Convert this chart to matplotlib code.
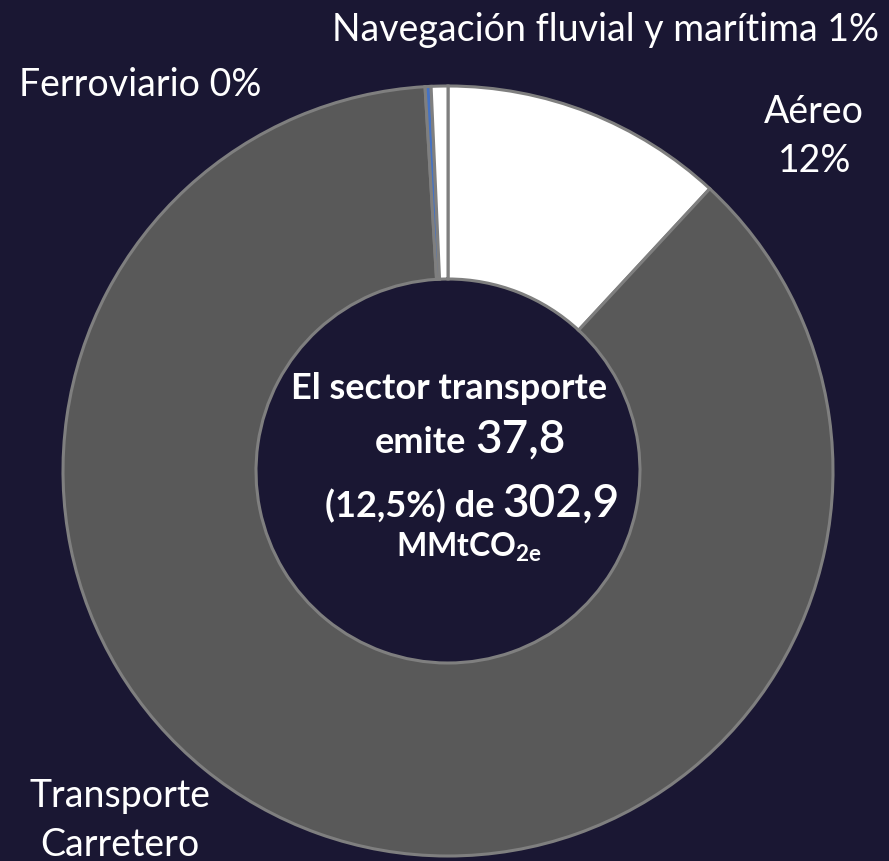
import matplotlib.pyplot as plt

# Emisiones del sector transporte (%)
categorias = ['Aéreo', 'Transporte Carretero', 'Ferroviario', 'Navegación fluvial y marítima']
valores = [11.9, 87.15, 0.25, 0.7]
colores = ['#ffffff', '#595959', '#4472c4', '#ffffff']

bg = '#1a1733'
plt.rcParams['font.family'] = ['Lato', 'DejaVu Sans']
plt.rcParams['mathtext.fontset'] = 'custom'
plt.rcParams['mathtext.rm'] = 'Lato:bold'
plt.rcParams['mathtext.it'] = 'Lato:bold'
plt.rcParams['mathtext.bf'] = 'Lato:bold'

fig = plt.figure(figsize=(8.89, 8.62), dpi=100, facecolor=bg)
ax = fig.add_axes([0, 0, 1, 1])
ax.set_facecolor(bg)

# donut centred in pixel coordinates
ax.pie(valores, colors=colores, startangle=90, counterclock=False,
       center=(448, 390), radius=385,
       wedgeprops=dict(width=193, edgecolor='#7f7f7f', linewidth=2.2))
ax.set_xlim(0, 889)
ax.set_ylim(0, 862)
ax.set_aspect('equal')
ax.axis('off')

# etiquetas
lbl = dict(color='white', fontsize=27, ha='center', va='center')
ax.text(605, 832, 'Navegación fluvial y marítima 1%', **lbl)
ax.text(140, 777, 'Ferroviario 0%', **lbl)
ax.text(814, 750, 'Aéreo', **lbl)
ax.text(815, 701, '12%', **lbl)
ax.text(120, 66, 'Transporte', **lbl)
ax.text(120, 17, 'Carretero', **lbl)

# texto central
ctr = dict(color='white', fontsize=26, fontweight='bold', va='baseline')
ax.text(449, 463, 'El sector transporte', ha='center', **ctr)
ax.text(466, 409, 'emite', ha='right', **ctr)
ax.text(475, 409, '37,8', color='white', fontsize=33, fontweight='semibold',
        ha='left', va='baseline')
ax.text(494, 345, '(12,5%) de', ha='right', **ctr)
ax.text(502, 345, '302,9', color='white', fontsize=33, fontweight='semibold',
        ha='left', va='baseline')
ax.text(469, 305, r'MMtCO$_{2e}$', color='white', fontsize=23,
        fontweight='bold', ha='center', va='baseline')

plt.savefig('out.png', dpi=100, facecolor=bg)
plt.close()
